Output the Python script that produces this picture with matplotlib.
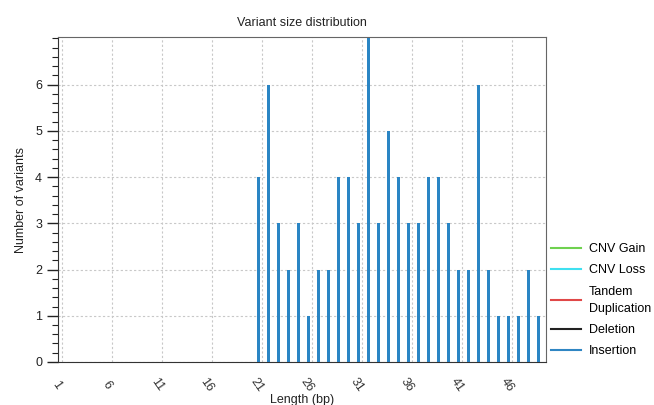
import matplotlib
matplotlib.use('Agg')
import matplotlib.pyplot as plt
from matplotlib.ticker import MultipleLocator
from matplotlib.lines import Line2D

plt.rcParams['font.family'] = ['Liberation Sans', 'DejaVu Sans']

# insertion lengths (bp) and counts
lengths = list(range(21, 50))
counts = [4, 6, 3, 2, 3, 1, 2, 2, 4, 4, 3, 7, 3, 5, 4,
          3, 3, 4, 4, 3, 2, 2, 6, 2, 1, 1, 1, 2, 1]
xtick_vals = [1, 6, 11, 16, 21, 26, 31, 36, 41, 46]

legend_names = ['CNV Gain', 'CNV Loss', 'Tandem\nDuplication', 'Deletion', 'Insertion']
legend_colors = ['#6fd14f', '#3fe0f0', '#e04848', '#222222', '#2f86c3']

fig = plt.figure(figsize=(6.54, 4.05), dpi=100)
ax = fig.add_axes([0.0887, 0.1062, 0.7457, 0.8024])

# bars sit slightly left of the grid/tick positions in the original
ax.bar([l - 0.34 for l in lengths], counts, width=0.26, color='#2a85c4', zorder=3)

ax.set_xlim(0.63, 49.4)
ax.set_ylim(0, 7.03)
ax.set_xticks(xtick_vals)
ax.set_xticklabels([str(v) for v in xtick_vals], rotation=-55, ha='center', va='top',
                   fontsize=9, color='#333333', rotation_mode='anchor')
ax.tick_params(axis='x', length=0, pad=14)
ax.set_yticks(range(0, 7))
ax.yaxis.set_minor_locator(MultipleLocator(0.2))
ax.tick_params(axis='y', which='major', length=8, width=1, labelsize=9, colors='#222222')
ax.tick_params(axis='y', which='minor', length=4, width=0.8, colors='#222222')

ax.grid(True, which='major', linestyle=(0, (2, 2)), color='#c8c8c8', linewidth=0.8, zorder=0)

for s in ['top', 'right']:
    ax.spines[s].set_color('#666666')
for s in ['left', 'bottom']:
    ax.spines[s].set_color('#333333')

ax.set_title('Variant size distribution', fontsize=9, color='#222222', pad=8)
ax.set_xlabel('Length (bp)', fontsize=9, color='#222222', labelpad=0)
ax.set_ylabel('Number of variants', fontsize=9, color='#222222', labelpad=6)

handles = [Line2D([0], [0], color=c, lw=1.5) for c in legend_colors]
leg = fig.legend(handles, legend_names, loc='lower left', bbox_to_anchor=(0.835, 0.105),
                 frameon=False, fontsize=9, handlelength=2.4, handletextpad=0.6,
                 labelspacing=0.75, borderaxespad=0)
for t in leg.get_texts():
    t.set_linespacing(1.55)

fig.savefig('out.png', dpi=100)
